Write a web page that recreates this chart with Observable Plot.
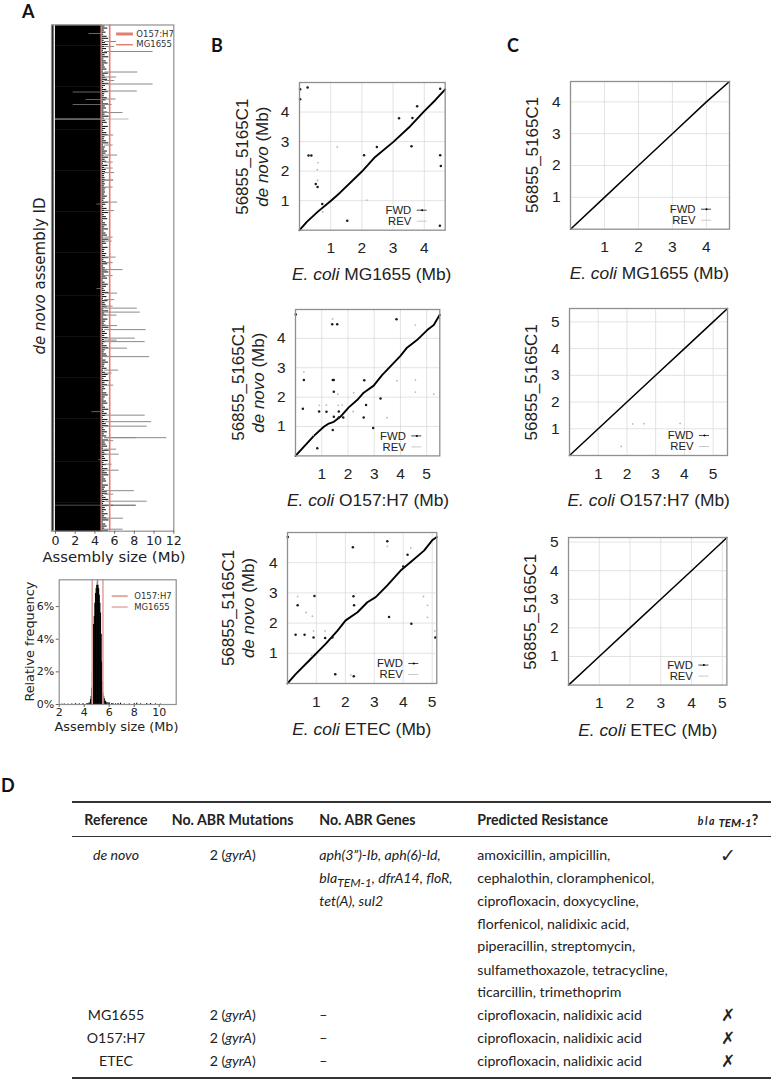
<!DOCTYPE html>
<html><head><meta charset="utf-8">
<script src="https://cdn.jsdelivr.net/npm/d3@7"></script>
<script src="https://cdn.jsdelivr.net/npm/@observablehq/plot@0.6"></script>
<style>
html,body{margin:0;padding:0;background:#fff}
#page{position:relative;width:773px;height:1080px;overflow:hidden;font-family:Lato,sans-serif;color:#222}
.t{position:absolute;white-space:nowrap;font-size:14.15px;line-height:18px;transform:translateY(-9px)}
.c{transform:translate(-50%,-9px)}
.letter{position:absolute;font:700 18px/18px Lato,sans-serif;color:#111}
.h{font-weight:700}
.rule{position:absolute;background:#333}
sub{font-size:.85em;vertical-align:-4px;line-height:0}
</style></head><body><div id="page"></div>
<script>
// ---------- Panel A: assembly sizes (Mb), read along the jagged edge from top to bottom
const assemblySizes=[5.02,5.31,4.96,5.12,4.88,5.24,5.40,4.93,5.08,5.35,4.99,5.18,4.86,5.28,5.04,5.41,4.91,5.15,5.33,4.97,
5.06,5.22,4.84,5.37,5.01,5.11,5.29,4.94,5.43,5.07,4.89,5.19,5.34,5.00,4.95,5.26,5.13,4.87,5.39,5.05,
5.17,4.92,5.30,5.03,5.44,4.98,5.10,5.25,4.85,5.36,5.09,4.90,5.21,5.32,5.02,4.96,5.16,5.42,4.88,5.06,
4.99,5.27,5.12,4.93,5.38,5.04,5.20,4.86,5.33,5.00,5.14,5.08,5.02,4.98,5.04,5.10,5.00,5.06,4.97,5.12,
5.03,5.08,4.99,5.26,5.05,4.92,5.35,5.11,4.89,5.23,5.01,5.40,4.95,5.16,5.30,4.87,5.07,5.24,5.00,5.37,
4.94,5.13,5.28,4.90,5.43,5.05,5.19,4.85,5.34,5.02,4.97,5.21,5.10,5.39,4.91,5.15,5.31,4.88,5.06,5.25,
5.41,4.96,5.12,5.29,4.84,5.03,5.36,5.18,4.93,5.08,5.44,4.99,5.22,4.87,5.33,5.04,5.14,5.27,4.92,5.38,
5.00,5.20,4.89,5.32,5.09,4.95,5.17,5.42,4.86,5.06,5.26,5.01,5.35,4.98,5.11,4.90,5.24,5.40,5.05,4.94,
5.19,5.30,4.85,5.13,5.37,5.02,4.97,5.23,4.88,5.07,5.34,5.16,4.92,5.43,5.03,5.28,4.99,5.10,4.87,5.21,
5.36,5.05,4.93,5.18,5.31,4.90,5.08,5.41,4.96,5.25,5.12,4.86,5.33,5.00,5.15,5.39,4.91,5.06,5.27,4.95,
5.20,4.84,5.38,5.04,5.14,5.29,4.89,5.44,5.01,5.22,4.98,5.09,5.35,4.92,5.17,4.87,5.32,5.03,5.26,5.42,
4.94,5.11,5.19,4.85,5.37,5.07,4.97,5.24,5.30,4.90,5.13,5.40,5.02,4.88,5.28,5.05,5.16,4.93,5.34,4.99,
5.21,5.43,4.86,5.10,5.25,5.00,5.36];
// long assemblies: row (from the top) and size (Mb)
const longRows=[16.5,21.5,26.5,47,52,55.5,59,66,74,79.5,87.5,110,120,130,137,143,147.5,155,155,162,177,185.5,212,216,232,237.5,244.5,250.5,
268,274.5,281,283,287,290,300.5,304.5,313,316.5,315,323,331.5,345,348,360,390,396.5,401,412.5,412.5,415.5,424,429,439,445,465.5,469,476,480,493,504];
const longSizes=[6.2,6.0,9.9,8.35,6.2,6.0,9.9,8.3,6.15,5.75,6.85,5.9,5.85,6.3,5.85,5.85,6.0,5.9,5.9,5.85,6.3,6.0,5.85,5.75,6.15,5.85,6.85,5.85,
6.3,6.0,5.85,8.3,8.6,6.25,6.3,9.2,8.1,9.1,6.25,7.3,9.55,6.4,5.75,5.9,9.1,9.75,9.3,11.3,8.2,5.9,6.2,6.45,5.75,6.45,8.0,5.9,9.3,5.9,6.9,6.85];
// assemblies much shorter than the rest: row and size (Mb)
const shortRows=[8.5,67,74.5,79.5,179,263.5,386.5,434.5];
const shortSizes=[3.4,1.8,3.1,1.8,4.2,4.2,3.7,4.4];
const paleRow=[94], paleSize=[7.45];
const darkRow=[480], darkSize=[8.2];
const refNames=["O157:H7","MG1655"];
const refSizes=[5.5,4.64];
const xTicksA=[0,2,4,6,8,10,12];
// ---------- Panel A, histogram
const histBins=[2.2,2.4,2.7,3.0,3.3,3.6,3.9,4.2,4.3,4.4,4.5,4.55,4.6,4.65,4.7,4.75,4.8,4.85,4.9,4.95,5.0,5.05,5.1,5.15,5.2,5.25,5.3,5.35,5.4,5.45,5.5,5.55,5.6,5.7,5.8,5.9,6.0,6.2,6.3,6.5,6.7,6.9,7.2,7.6,8.0,8.2,8.5,9.0,9.3,9.7,10.1];
const histPct=[.02,.03,.02,.03,.05,.04,.05,.05,.06,.1,.3,.5,1.0,2.0,3.4,4.9,5.4,6.2,6.8,7.1,7.3,7.4,7.3,7.1,6.7,6.2,5.6,4.3,2.6,1.4,.7,.5,.35,.2,.12,.1,.1,.06,.05,.04,.06,.08,.03,.03,.05,.08,.04,.06,.06,.04,.02];
const histTicksX=[2,4,6,8,10], histTicksY=[0,2,4,6];
// ---------- Panels B and C: alignment dot plots, [x,y] in Mb
const b1Line=[[0,0],[.235,.28],[.58,.62],[1,.99],[1.3,1.27],[2,1.985],[2.425,2.48],[3.01,2.99],[3.55,3.52],[4,4.03],[4.35,4.4],[4.67,4.77]];
const b1Fwd=[[.02,4.77],[.02,4.43],[.26,4.83],[.29,2.53],[.38,2.53],[.52,1.56],[.58,1.46],[.73,.89],[1.53,.32],[2.07,2.54],[2.48,2.82],[3.19,3.79],[3.59,2.84],[3.62,3.8],[3.77,4.2],[4.51,4.79],[4.51,2.54],[4.53,2.17],[4.5,.15]];
const b1Rev=[[1.21,2.82],[.59,2.29],[.57,2.05],[.58,1.69],[2.16,1.02],[.74,.62]];
const b2Line=[[0,0],[.7,.68],[1.08,.99],[1.27,1.1],[1.46,1.16],[1.71,1.33],[2.03,1.65],[2.35,1.9],[2.6,2.15],[2.98,2.39],[3.3,2.75],[4,3.4],[4.25,3.68],[4.63,3.94],[5.02,4.28],[5.27,4.45],[5.5,4.8]];
const b2Fwd=[[.01,4.81],[1.4,4.48],[1.59,4.48],[3.85,4.65],[.32,2.58],[1.42,2.58],[1.46,2.58],[2.62,2.57],[1.46,2.18],[3.24,1.95],[2.69,1.73],[.28,1.6],[.9,1.51],[1.18,1.5],[1.65,1.51],[1.65,1.31],[1.46,1.33],[1.82,1.31],[2.6,1.31],[2.96,.95],[1.42,.88],[.83,.26]];
const b2Rev=[[1.41,4.66],[4.57,4.45],[.32,2.86],[3.87,2.56],[4.57,2.58],[4.57,2.17],[5.27,2.1],[1.61,2.1],[2.22,2.15],[.91,1.72],[1.18,1.73],[1.63,1.72],[1.78,1.73],[2.2,1.51],[3.49,1.3],[.67,.7]];
const b3Line=[[0,0],[.29,.32],[.81,.82],[1.32,1.31],[1.73,1.75],[2.01,2.09],[2.42,2.36],[2.76,2.69],[3.05,2.86],[3.45,3.25],[3.91,3.74],[4.26,4.02],[4.72,4.4],[5,4.74],[5.16,4.85]];
const b3Fwd=[[.01,4.85],[3.45,4.71],[2.26,4.51],[4.15,4.26],[4,3.87],[.93,2.9],[2.28,2.89],[.35,2.59],[2.3,2.59],[3.51,2.2],[4.28,1.98],[.28,1.61],[.59,1.61],[.9,1.52],[1.3,1.51],[5.11,1.52],[1.55,1.52],[1.65,.31],[2.29,.24]];
const b3Rev=[[3.45,4.54],[4.26,4.49],[.35,2.88],[4.7,2.88],[4.84,2.59],[.64,2.35],[.86,2.23],[4.84,2.19],[.9,1.74],[1.3,1.74],[5.09,1.74],[2.19,.28],[.84,.93]];
const c1Line=[[0,0],[1,1],[2,2],[3,3],[4,4],[4.68,4.64]];
const c2Line=[[0,0],[1,1],[2,2],[3,3],[4,4],[5,5],[5.5,5.5]];
const c2Rev=[[1.8,.34],[2.2,1.18],[2.6,1.19],[3.85,1.2]];
const c3Line=[[0,0],[1,1],[2,2],[3,3],[4,4],[5,5],[5.15,5.16]];
// ---------- Panel D table
const tableHead=["Reference","No. ABR Mutations","No. ABR Genes","Predicted Resistance"];
const tableRefs=["de novo","MG1655","O157:H7","ETEC"];
const geneLines=["aph(3”)-Ib, aph(6)-Id,","bla<sub>TEM-1</sub>, dfrA14, floR,","tet(A), sul2"];
const drugLines=["amoxicillin, ampicillin,","cephalothin, cloramphenicol,","ciprofloxacin, doxycycline,","florfenicol, nalidixic acid,","piperacillin, streptomycin,","sulfamethoxazole, tetracycline,","ticarcillin, trimethoprim","ciprofloxacin, nalidixic acid","ciprofloxacin, nalidixic acid","ciprofloxacin, nalidixic acid"];
const marksCol=["✓","✗","✗","✗"];

// ---------- helpers
const page=document.getElementById("page");
const SVGNS="http://www.w3.org/2000/svg";
function label(parts,px,py,opt,origin){
  return ()=>{
    const t=document.createElementNS(SVGNS,"text");
    t.setAttribute("text-anchor","middle");
    t.setAttribute("font-size",opt.size);
    t.setAttribute("font-family",opt.family);
    t.setAttribute("fill",opt.fill||"#222");
    t.setAttribute("transform",`translate(${px-origin.left},${py-origin.top})`+(opt.rot?` rotate(${opt.rot})`:""));
    t.setAttribute("dy","0.36em");
    for(const [s,it] of parts){
      const sp=document.createElementNS(SVGNS,"tspan");
      if(it) sp.setAttribute("font-style","italic");
      sp.textContent=s; t.appendChild(sp);
    }
    return t;
  };
}
function put(svg,left,top){svg.style.position="absolute";svg.style.left=left+"px";svg.style.top=top+"px";page.appendChild(svg);}

const GNU='"Liberation Sans",Arial,sans-serif', DJ='"DejaVu Sans",sans-serif';
const SALMON="#e07f70";
// ---------- Panel A bars
(function(){
  const F={L:51,R:173.3,T:24.5,B:530.7};
  const o={left:0,top:0};
  const n=assemblySizes.length, step=506/n;
  const rows=assemblySizes.map((v,i)=>({i:(i+.5)*step,v}));
  const zip=(a,b)=>a.map((r,i)=>({r,s:b[i]}));
  const svg=Plot.plot({
    width:200,height:570,marginLeft:F.L,marginRight:200-F.R,marginTop:F.T,marginBottom:570-F.B,
    style:{background:"transparent",fontFamily:DJ,overflow:"visible"},
    x:{domain:[-0.4,12],label:null},y:{domain:[506,0],label:null,axis:null},
    marks:[
      Plot.ruleY(rows,{y:"i",x1:0,x2:4.78,stroke:"#000",strokeWidth:step+.7}),
      Plot.ruleY(rows,{y:"i",x1:4.7,x2:"v",stroke:"#1c1c1c",strokeWidth:1.1}),
      Plot.ruleY(zip(longRows,longSizes),{y:"r",x1:5,x2:"s",stroke:"#8a8a8a",strokeWidth:1}),
      Plot.ruleY(zip(shortRows,shortSizes),{y:"r",x1:"s",x2:4.7,stroke:"#666",strokeWidth:1}),
      Plot.ruleY(zip(paleRow,paleSize),{y:"r",x1:0,x2:"s",stroke:"#b9b9b9",strokeWidth:1}),
      Plot.ruleY(zip(darkRow,darkSize),{y:"r",x1:0,x2:"s",stroke:"#4d4d4d",strokeWidth:1}),
      Plot.ruleX([-0.27],{stroke:"#222",strokeWidth:1.6}),
      Plot.ruleX(refSizes,{stroke:SALMON,strokeWidth:1.6}),
      Plot.ruleY([9],{x1:6.2,x2:7.9,stroke:SALMON,strokeWidth:3}),
      Plot.ruleY([19.7],{x1:6.2,x2:7.9,stroke:SALMON,strokeWidth:1.5}),
      Plot.text(refNames,{x:8.2,y:[9,19.7],text:d=>d,textAnchor:"start",fontSize:8.5,fill:"#333",fontFamily:DJ}),
      Plot.frame({stroke:"#8f8f8f",strokeWidth:1.2}),
      Plot.axisX(xTicksA,{anchor:"bottom",tickSize:3,tickPadding:2,fontSize:12.6,stroke:"#666",fill:"#222",label:null,tickFormat:d=>d}),
      label([["Assembly size (Mb)",0]],114,557,{size:14.8,family:DJ},o),
      label([["de novo",1],[" assembly ID",0]],40,276,{size:15,family:DJ,rot:-90},o)
    ]});
  put(svg,0,0);
})();

// ---------- Panel A histogram
(function(){
  const F={L:58.7,R:175.7,T:579.3,B:704};
  const o={left:0,top:560};
  const bins=histBins.map((b,i)=>({b,p:histPct[i]}));
  const svg=Plot.plot({
    width:200,height:190,marginLeft:F.L,marginRight:200-F.R,marginTop:F.T-560,marginBottom:750-F.B,
    style:{background:"transparent",fontFamily:DJ,overflow:"visible"},
    x:{domain:[2,11.36],label:null},y:{domain:[0,7.64],label:null},
    marks:[
      Plot.rectY(bins,{x1:"b",x2:d=>d.b+.09,y:"p",fill:"#000"}),
      Plot.ruleX([5.06],{y1:7.3,y2:7.64,stroke:"#8a8a8a",strokeWidth:1.5}),
      Plot.ruleX(refSizes,{stroke:"#e2a99d",strokeWidth:1.6}),
      Plot.ruleY([6.64],{x1:6.24,x2:7.52,stroke:"#e2a99d",strokeWidth:2}),
      Plot.ruleY([5.97],{x1:6.24,x2:7.52,stroke:"#e8bfb5",strokeWidth:2}),
      Plot.text(refNames,{x:8.0,y:[6.64,5.97],text:d=>d,textAnchor:"start",fontSize:8.5,fill:"#333",fontFamily:DJ}),
      Plot.frame({stroke:"#8f8f8f",strokeWidth:1.2}),
      Plot.axisX(histTicksX,{anchor:"bottom",tickSize:3,tickPadding:1,fontSize:11,stroke:"#666",fill:"#222",label:null,tickFormat:d=>d}),
      Plot.axisY(histTicksY,{anchor:"left",tickSize:3,tickPadding:2,fontSize:11,stroke:"#666",fill:"#222",label:null,tickFormat:d=>d+"%"}),
      label([["Assembly size (Mb)",0]],116.5,726,{size:12.8,family:DJ},o),
      label([["Relative frequency",0]],29,641.7,{size:12.8,family:DJ,rot:-90},o)
    ]});
  put(svg,0,560);
})();

// ---------- Panels B, C
function dotPanel(c){
  const w=c.R-c.L,h=c.B-c.T,ml=80,mr=26,mt=12,mb=64;
  const origin={left:c.L-ml,top:c.T-mt};
  const xAt=d=>c.xMax*(w-d)/w, yAt=d=>c.yMax*d/h;
  const pt={x:d=>d[0],y:d=>d[1]};
  const marks=[
    Plot.gridX(c.xTicks,{stroke:"#dcdcdc",strokeOpacity:1,strokeWidth:.8}),
    Plot.gridY(c.yTicks,{stroke:"#dcdcdc",strokeOpacity:1,strokeWidth:.8}),
    Plot.line(c.line,{...pt,stroke:"#000",strokeWidth:c.lineW,curve:"linear"}),
    Plot.dot(c.rev||[],{...pt,r:.9,fill:"#b8b8b8",stroke:"none"}),
    Plot.dot(c.fwd||[],{...pt,r:1.25,fill:"#1a1a1a",stroke:"none"}),
    Plot.frame({stroke:"#8f8f8f",strokeWidth:1.3}),
    Plot.axisX(c.xTicks,{anchor:"bottom",tickSize:0,tickPadding:12,fontSize:15.5,fill:"#222",label:null,tickFormat:d=>d}),
    Plot.axisY(c.yTicks,{anchor:"left",tickSize:0,tickPadding:10,fontSize:15.5,fill:"#222",label:null,tickFormat:d=>d}),
    Plot.text(["FWD"],{frameAnchor:"bottom-right",dx:-34,dy:-20,fontSize:11.3,fill:"#222",fontFamily:GNU,lineAnchor:"middle",textAnchor:"end"}),
    Plot.text(["REV"],{frameAnchor:"bottom-right",dx:-34,dy:-9,fontSize:11.3,fill:"#222",fontFamily:GNU,lineAnchor:"middle",textAnchor:"end"}),
    Plot.ruleY([yAt(20)],{x1:xAt(28),x2:xAt(18),stroke:"#333",strokeWidth:.9}),
    Plot.dot([[xAt(23),yAt(20)]],{x:d=>d[0],y:d=>d[1],r:1,fill:"#000",stroke:"none"}),
    Plot.ruleY([yAt(9)],{x1:xAt(28),x2:xAt(18),stroke:"#c4c4c4",strokeWidth:.9}),
    label(c.xLabel,c.xLabelX,c.B+c.xLabelDy,{size:17.4,family:GNU},origin)
  ];
  for(const y of c.yLabels) marks.push(label(y.parts,y.x,y.y,{size:17,family:GNU,rot:-90},origin));
  const svg=Plot.plot({
    width:w+ml+mr,height:h+mt+mb,marginLeft:ml,marginRight:mr,marginTop:mt,marginBottom:mb,
    style:{background:"transparent",fontFamily:GNU,overflow:"visible"},
    x:{domain:[0,c.xMax],label:null},y:{domain:[0,c.yMax],label:null},
    marks});
  put(svg,origin.left,origin.top);
}
const yB=(x,y)=>[{parts:[["56855_5165C1",0]],x,y},{parts:[["de novo",1],[" (Mb)",0]],x:x+20,y}];
const yC=(x,y)=>[{parts:[["56855_5165C1",0]],x,y}];
const ec=(s)=>[["E. coli",1],[" "+s+" (Mb)",0]];
const t12345=[1,2,3,4,5],t1234=[1,2,3,4];
[
 {L:299.3,R:445,T:82.3,B:230,xMax:4.67,yMax:5.0,xTicks:t1234,yTicks:t1234,line:b1Line,lineW:1.9,fwd:b1Fwd,rev:b1Rev,xLabel:ec("MG1655"),xLabelX:372,xLabelDy:44,yLabels:yB(242,157)},
 {L:295,R:439.3,T:309.3,B:455.7,xMax:5.5,yMax:4.98,xTicks:t12345,yTicks:t1234,line:b2Line,lineW:1.9,fwd:b2Fwd,rev:b2Rev,xLabel:ec("O157:H7"),xLabelX:368,xLabelDy:44,yLabels:yB(238,383)},
 {L:286.7,R:436,T:532,B:683,xMax:5.16,yMax:5.0,xTicks:t12345,yTicks:t1234,line:b3Line,lineW:1.9,fwd:b3Fwd,rev:b3Rev,xLabel:ec("ETEC"),xLabelX:361.5,xLabelDy:46,yLabels:yB(228,608)},
 {L:569.7,R:728.7,T:81,B:228.7,xMax:4.68,yMax:4.64,xTicks:t1234,yTicks:t1234,line:c1Line,lineW:1.5,xLabel:ec("MG1655"),xLabelX:649,xLabelDy:44,yLabels:yC(531.5,155)},
 {L:569.3,R:727.3,T:307.7,B:454.7,xMax:5.5,yMax:5.5,xTicks:t12345,yTicks:t12345,line:c2Line,lineW:1.5,rev:c2Rev,xLabel:ec("O157:H7"),xLabelX:649,xLabelDy:45,yLabels:yC(531.5,382)},
 {L:568.3,R:726.7,T:536.7,B:684.3,xMax:5.15,yMax:5.16,xTicks:t12345,yTicks:t12345,line:c3Line,lineW:1.5,xLabel:ec("ETEC"),xLabelX:648,xLabelDy:45,yLabels:yC(530,611.5)}
].forEach(dotPanel);

// ---------- Panel letters
[["A",22,2],["B",211,36],["C",507,36],["D",1,776]].forEach(([s,x,y])=>{
  const d=document.createElement("div");d.className="letter";d.textContent=s;d.style.left=x+"px";d.style.top=y+"px";page.appendChild(d);
});

// ---------- Panel D
function rule(y,h){const d=document.createElement("div");d.className="rule";d.style.cssText=`left:72px;width:699px;top:${y}px;height:${h}px`;page.appendChild(d);}
rule(801,2);rule(835.5,1.5);rule(1076.5,2);
function txt(html,x,y,cls,style){const d=document.createElement("div");d.className="t "+(cls||"");d.innerHTML=html;d.style.left=x+"px";d.style.top=y+"px";if(style)d.style.cssText+=style;page.appendChild(d);}
const lineY=[855,878,901,923.7,946.4,969.5,992.2,1015,1038.2,1061];
txt(tableHead[0],116,820,"c h");txt(tableHead[1],232.7,820,"c h");txt(tableHead[2],319.3,820,"h");txt(tableHead[3],477.3,820,"h");
txt('<i style="font-size:10.5px;letter-spacing:1.6px">bla</i><i style="font-size:11.5px;vertical-align:-2px"> TEM-1</i>?',728,820,"c h");
const refY=[lineY[0],lineY[7],lineY[8],lineY[9]];
tableRefs.forEach((r,i)=>{
  txt(i==0?`<i>${r}</i>`:r,116,refY[i],"c");
  txt("2 (<i>gyrA</i>)",232.7,refY[i],"c");
  if(i>0) txt("–",319.3,refY[i]);
  txt(marksCol[i],728,refY[i],"c",`font-family:'DejaVu Sans';font-size:${i==0?19:17}px;`);
});
geneLines.forEach((g,i)=>txt(`<i>${g}</i>`,319.3,lineY[i]));
drugLines.forEach((g,i)=>txt(g,477.3,lineY[i]));
</script></body></html>
